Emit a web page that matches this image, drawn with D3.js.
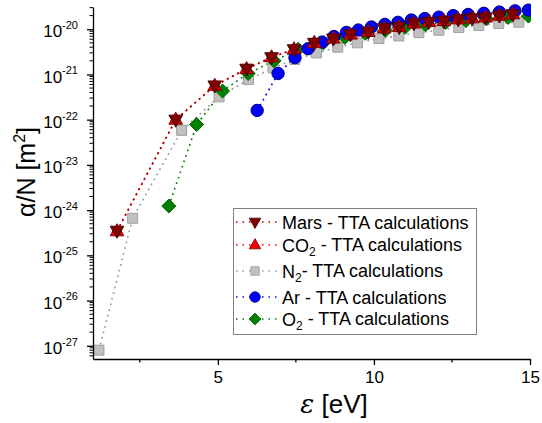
<!DOCTYPE html>
<html>
<head>
<meta charset="utf-8">
<script src="https://cdn.jsdelivr.net/npm/d3@7"></script>
<style>
  body { margin: 0; background: #fff; }
  text { font-family: "Liberation Sans", Arial, sans-serif; fill: #000; }
</style>
</head>
<body>
<div id="chart"></div>
<script>
// energies [eV] and alpha/N [m^2] per gas
var marsE = [1.77, 3.65, 4.90, 5.92, 6.72, 7.44, 8.09, 8.70, 9.25, 9.82, 10.33, 10.81, 11.28, 11.76, 12.24, 12.70, 13.15, 13.58, 14.02, 14.45];
var marsA = [3.5e-25, 1.0e-22, 5.7e-22, 1.34e-21, 2.4e-21, 3.6e-21, 5.0e-21, 6.2e-21, 7.7e-21, 8.7e-21, 1.05e-20, 1.12e-20, 1.35e-20, 1.45e-20, 1.51e-20, 1.66e-20, 1.74e-20, 1.82e-20, 2.0e-20, 2.14e-20];
var co2E = marsE.slice();
var co2A = [3.4e-25, 1.0e-22, 5.6e-22, 1.32e-21, 2.4e-21, 3.6e-21, 5.0e-21, 6.2e-21, 7.6e-21, 8.7e-21, 1.04e-20, 1.12e-20, 1.34e-20, 1.45e-20, 1.51e-20, 1.65e-20, 1.74e-20, 1.82e-20, 1.99e-20, 2.13e-20];
var n2E = [1.19, 2.27, 3.84, 5.04, 5.98, 6.77, 7.47, 8.16, 8.84, 9.47, 10.16, 10.80, 11.44, 12.08, 12.72, 13.36, 14.0, 14.64];
var n2A = [8e-28, 6.6e-25, 5.8e-23, 3.2e-22, 7.7e-22, 1.4e-21, 2.15e-21, 3.0e-21, 4.0e-21, 5.0e-21, 6.2e-21, 7.1e-21, 8.4e-21, 9.5e-21, 1.09e-20, 1.21e-20, 1.34e-20, 1.43e-20];
var arE = [6.26, 6.93, 7.47, 7.89, 8.34, 8.72, 9.12, 9.50, 9.92, 10.35, 10.77, 11.20, 11.63, 12.08, 12.54, 13.02, 13.52, 14.02, 14.52, 14.95];
var arA = [1.6e-22, 1.05e-21, 2.35e-21, 3.7e-21, 5.2e-21, 6.9e-21, 8.5e-21, 9.6e-21, 1.12e-20, 1.28e-20, 1.42e-20, 1.6e-20, 1.72e-20, 1.85e-20, 2.0e-20, 2.12e-20, 2.25e-20, 2.4e-20, 2.55e-20, 2.65e-20];
var o2E = [3.43, 4.32, 5.15, 5.97, 6.80, 7.57, 8.38, 9.07, 9.72, 10.37, 11.0, 11.65, 12.3, 12.95, 13.6, 14.3, 14.95];
var o2A = [1.23e-24, 7.8e-23, 4.3e-22, 1.05e-21, 2.0e-21, 3.6e-21, 5.0e-21, 6.6e-21, 8.1e-21, 9.5e-21, 1.1e-20, 1.26e-20, 1.41e-20, 1.55e-20, 1.7e-20, 1.82e-20, 1.95e-20];

var xTicks = [5, 10, 15];
var xMinor = [2.5, 7.5, 12.5];
var yExps = [-27, -26, -25, -24, -23, -22, -21, -20];

var width = 542, height = 423;
var mLeft = 93, mRight = 530, mTop = 7, mBottom = 359;

var svg = d3.select("#chart").append("svg")
    .attr("width", width)
    .attr("height", height);

var x = d3.scaleLinear().domain([1, 15]).range([mLeft, mRight]);
var y = d3.scaleLog().domain([5.1e-28, 3.1e-20]).range([mBottom, mTop]);

svg.append("defs").append("clipPath").attr("id", "clip")
  .append("rect").attr("x", mLeft - 10).attr("y", 0).attr("width", mRight - mLeft + 11).attr("height", mBottom);

// series: drawing order = N2, O2, Ar, CO2, Mars (Mars on top)
var series = [
  { name: "n2", E: n2E, A: n2A, line: "#999999", fill: "#c0c0c0", stroke: "#a0a0a0", shape: "square" },
  { name: "o2", E: o2E, A: o2A, line: "#008000", fill: "#008000", stroke: "#006400", shape: "diamond" },
  { name: "ar", E: arE, A: arA, line: "#0000ff", fill: "#0000ff", stroke: "#000080", shape: "circle" },
  { name: "co2", E: co2E, A: co2A, line: "#ff0000", fill: "#ee0000", stroke: "#800000", shape: "up" },
  { name: "mars", E: marsE, A: marsA, line: "#a00000", fill: "#800000", stroke: "#500000", shape: "down" }
];

function symbolPath(shape) {
  if (shape === "square") return "M-5,-5H5V5H-5Z";
  if (shape === "diamond") return "M0,-7L7,0L0,7L-7,0Z";
  if (shape === "circle") return d3.symbol(d3.symbolCircle, 120)();
  if (shape === "up") return "M0,-7.5L6.8,4.5L-6.8,4.5Z";
  return "M0,7.5L6.8,-4.5L-6.8,-4.5Z";
}

var plot = svg.append("g").attr("clip-path", "url(#clip)");

var line = d3.line();

series.forEach(function(s) {
  var pts = s.E.map(function(e, i) { return [x(e), y(s.A[i])]; });
  plot.append("path")
    .attr("d", line(pts))
    .attr("fill", "none")
    .attr("stroke", s.line)
    .attr("stroke-width", 1.6)
    .attr("stroke-dasharray", "1.8,4");
});

series.forEach(function(s) {
  plot.selectAll(".m-" + s.name)
    .data(s.E.map(function(e, i) { return [e, s.A[i]]; }))
    .enter().append("path")
    .attr("class", "m-" + s.name)
    .attr("transform", function(d) { return "translate(" + x(d[0]) + "," + y(d[1]) + ")"; })
    .attr("d", symbolPath(s.shape))
    .attr("fill", s.fill)
    .attr("stroke", s.stroke)
    .attr("stroke-width", 1);
});

// x axis
var xAxis = svg.append("g")
    .attr("transform", "translate(0," + mBottom + ")")
    .call(d3.axisBottom(x).tickValues(xTicks).tickSize(6).tickSizeOuter(0).tickPadding(6));
xAxis.select(".domain").attr("stroke-width", 1.3);
xAxis.selectAll("line").attr("stroke-width", 1.3);
xAxis.selectAll("text").attr("font-size", 17).attr("font-family", "Liberation Sans, Arial, sans-serif");
xAxis.selectAll(".minor").data(xMinor).enter().append("line")
    .attr("x1", function(d) { return x(d); }).attr("x2", function(d) { return x(d); })
    .attr("y1", 0).attr("y2", 3.5)
    .attr("stroke", "#000").attr("stroke-width", 1.3);

// y axis
var yMajor = yExps.map(function(e) { return Math.pow(10, e); });
var yAxis = svg.append("g")
    .attr("transform", "translate(" + mLeft + ",0)")
    .call(d3.axisLeft(y).tickValues(yMajor).tickSize(6).tickSizeOuter(0).tickPadding(9).tickFormat(""));
yAxis.select(".domain").attr("stroke-width", 1.3);
yAxis.selectAll("line").attr("stroke-width", 1.3);
yAxis.selectAll(".tick text").each(function(d, i) {
  var t = d3.select(this).attr("font-size", 17).attr("dy", "0.45em")
      .attr("font-family", "Liberation Sans, Arial, sans-serif");
  t.append("tspan").text("10");
  t.append("tspan").attr("font-size", 11).attr("dy", "-0.75em").text("-" + (-yExps[i]));
});

var yMinor = [];
for (var e = -28; e <= -20; e++) {
  for (var k = 2; k <= 9; k++) {
    var v = k * Math.pow(10, e);
    if (v >= y.domain()[0] && v <= y.domain()[1]) yMinor.push(v);
  }
}
yAxis.selectAll(".minor").data(yMinor).enter().append("line")
    .attr("x1", 0).attr("x2", -3.5)
    .attr("y1", function(d) { return y(d); }).attr("y2", function(d) { return y(d); })
    .attr("stroke", "#000").attr("stroke-width", 1);

// axis titles
var yt = svg.append("text")
    .attr("transform", "translate(35,172) rotate(-90)")
    .attr("text-anchor", "middle")
    .attr("font-size", 25);
yt.append("tspan").text("\u03b1/N [m");
yt.append("tspan").attr("font-size", 16).attr("dy", "-0.6em").text("2");
yt.append("tspan").attr("dy", "0.38em").text("]");

var xt = svg.append("text")
    .attr("x", 334).attr("y", 413)
    .attr("text-anchor", "middle")
    .attr("font-size", 26);
xt.append("tspan").attr("font-style", "italic").attr("font-family", "DejaVu Serif, serif").text("\u03b5");
xt.append("tspan").text(" [eV]");

// legend
var legendItems = [
  { s: series[4], label: ["Mars - TTA calculations"] },
  { s: series[3], label: ["CO", "2", " - TTA calculations"] },
  { s: series[0], label: ["N", "2", "- TTA calculations"] },
  { s: series[2], label: ["Ar - TTA calculations"] },
  { s: series[1], label: ["O", "2", " - TTA calculations"] }
];
var legendY = [222, 245, 271, 297, 319];

var legend = svg.append("g");
legend.append("rect")
    .attr("x", 233.5).attr("y", 208.5).attr("width", 243).attr("height", 126)
    .attr("fill", "#fff").attr("stroke", "#808080").attr("stroke-width", 1);

legendItems.forEach(function(it, i) {
  var g = legend.append("g").attr("transform", "translate(0," + legendY[i] + ")");
  g.append("line")
    .attr("x1", 236).attr("x2", 277).attr("y1", 0).attr("y2", 0)
    .attr("stroke", it.s.line).attr("stroke-width", 1.3).attr("stroke-dasharray", "1.5,5");
  g.append("path")
    .attr("transform", "translate(255,0) scale(0.85)")
    .attr("d", symbolPath(it.s.shape))
    .attr("fill", it.s.fill).attr("stroke", it.s.stroke).attr("stroke-width", 1);
  var t = g.append("text").attr("x", 282).attr("y", 6.5).attr("font-size", 18);
  t.append("tspan").text(it.label[0]);
  if (it.label.length > 1) {
    t.append("tspan").attr("font-size", 12).attr("dy", "0.35em").text(it.label[1]);
    t.append("tspan").attr("dy", "-0.24em").text(it.label[2]);
  }
});
</script>
</body>
</html>
